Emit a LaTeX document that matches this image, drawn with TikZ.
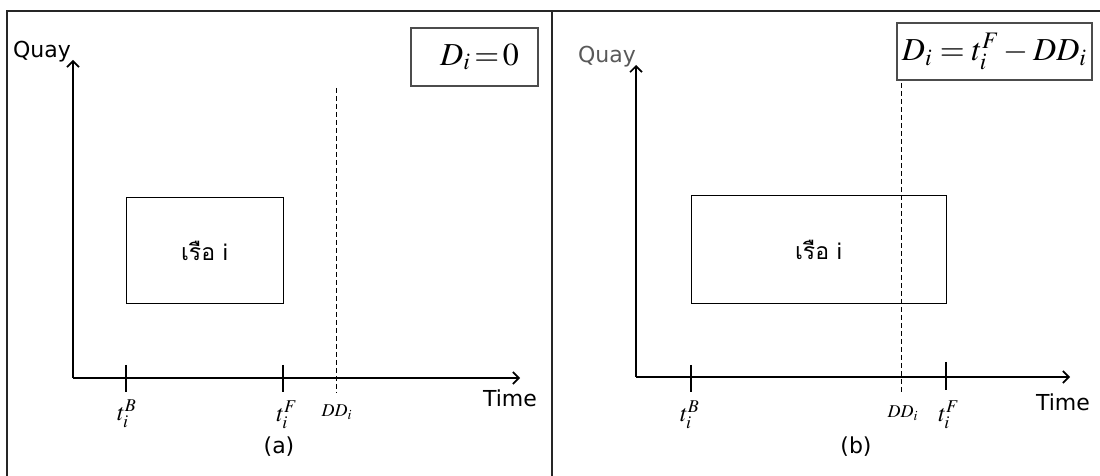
\documentclass[tikz,border=0pt]{standalone}
\usepackage{mathptmx}
\usepackage[no-math]{fontspec}
\setmainfont{DejaVu Sans}
\newfontfamily\thaifont[Script=Thai]{Loma}
\usetikzlibrary{arrows.meta}
\tikzset{
  frameline/.style={line width=1pt, draw=black!85},
  axisline/.style={line width=1pt, -{Straight Barb[length=3pt,width=6pt,line width=0.8pt]}},
  shipbox/.style={draw, line width=0.5pt, inner sep=0pt, font=\thaifont\fontsize{11.5}{13}\selectfont},
  tickline/.style={line width=0.6pt},
  ddline/.style={line width=0.5pt, dash pattern=on 2.5pt off 1.5pt},
  word/.style={font=\fontsize{11}{12}\selectfont, inner sep=0pt},
  tlabel/.style={font=\fontsize{12}{14}\selectfont, inner sep=0pt},
  ddlabel/.style={font=\fontsize{9}{11}\selectfont, inner sep=0pt},
  formula/.style={draw=black!70, line width=0.6pt, inner sep=0pt, font=\fontsize{16}{18}\selectfont},
}
\begin{document}
\begin{tikzpicture}[x=0.5pt,y=-0.5pt]
\useasboundingbox (0,0) rectangle (1100,476);
% frame
\coordinate (fBL) at (7,476);
\coordinate (fTL) at (7,11);
\coordinate (fTR) at (1100,11);
\coordinate (dT) at (552,11);
\coordinate (dB) at (552,476);
\draw[frameline] (fBL) -- (fTL) -- (fTR);
\draw[frameline] (dT) -- (dB);

% ---------------- panel (a) ----------------
\coordinate (aO) at (73,378);
\coordinate (aY) at (73,60);
\coordinate (aX) at (520,378);
\draw[axisline] (aO) -- (aY);
\draw[axisline] (aO) -- (aX);
\node[word] (aQuay) at (42,52) {Quay};
\node[word] (aTime) at (510,398) {Time};
\node[formula, minimum width=63.5pt, minimum height=29pt] (aForm) at (474.5,57) {\hspace*{5pt}$D_i\,{=}\,0$};
\node[shipbox, minimum width=78.5pt, minimum height=53pt] (aShip) at (204.5,251) {เรือ i};
\coordinate (aBt) at (126,365); \coordinate (aBb) at (126,392);
\coordinate (aFt) at (283,365); \coordinate (aFb) at (283,392);
\coordinate (aDt) at (336,88);  \coordinate (aDb) at (336,393);
\draw[tickline] (aBt) -- (aBb);
\draw[tickline] (aFt) -- (aFb);
\draw[ddline] (aDt) -- (aDb);
\node[tlabel] (aBl) at (127,414) {$t_i^B$};
\node[tlabel] (aFl) at (287,415) {$t_i^F$};
\node[ddlabel] (aDl) at (337,412) {$DD_i$};
\node[word] (aCap) at (279,447) {(a)};

% ---------------- panel (b) ----------------
\coordinate (bO) at (636,377);
\coordinate (bY) at (636,65);
\coordinate (bX) at (1070,377);
\draw[axisline] (bO) -- (bY);
\draw[axisline] (bO) -- (bX);
\node[word, text=black!65] (bQuay) at (607,57) {Quay};
\node[word] (bTime) at (1063,402) {Time};
\node[formula, minimum width=97.5pt, minimum height=28.5pt] (bForm) at (994.5,51.5) {$D_i=t_i^F-DD_i$};
\node[shipbox, minimum width=127.5pt, minimum height=54pt] (bShip) at (818.5,250) {เรือ i};
\coordinate (bBt) at (691,365); \coordinate (bBb) at (691,392);
\coordinate (bFt) at (946,362); \coordinate (bFb) at (946,390);
\coordinate (bDt) at (901,83);  \coordinate (bDb) at (901,393);
\draw[tickline] (bBt) -- (bBb);
\draw[tickline] (bFt) -- (bFb);
\draw[ddline] (bDt) -- (bDb);
\node[tlabel] (bBl) at (690,415) {$t_i^B$};
\node[ddlabel] (bDl) at (903,413) {$DD_i$};
\node[tlabel] (bFl) at (949,415) {$t_i^F$};
\node[word] (bCap) at (856,447) {(b)};
\end{tikzpicture}
\end{document}
